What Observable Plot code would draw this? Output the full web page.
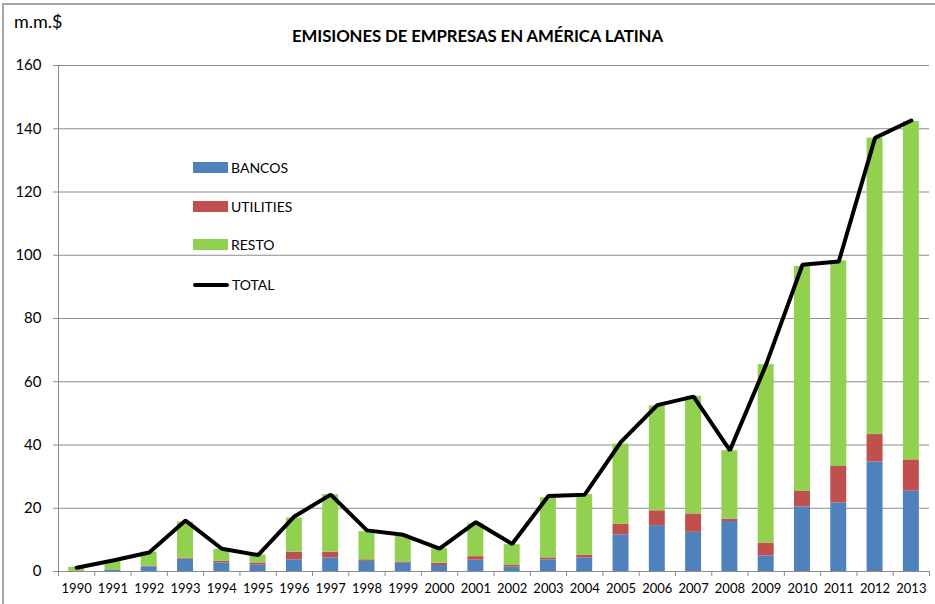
<!DOCTYPE html>
<html>
<head>
<meta charset="utf-8">
<script src="https://cdn.jsdelivr.net/npm/d3@7"></script>
<script src="https://cdn.jsdelivr.net/npm/@observablehq/plot@0.6"></script>
<style>
  body { margin: 0; background: #fff; }
  #chart { position: relative; width: 935px; height: 604px; overflow: hidden; font-family: Lato, "Open Sans", sans-serif; color: #000; }
  #frame { position: absolute; left: 2px; top: 3px; width: 940px; height: 610px; border: 2px solid #a6a6a6; box-sizing: border-box; pointer-events: none; }
  #plot { position: absolute; left: 0; top: 0; }
  #unit { position: absolute; left: 14px; top: 10px; font-size: 18px; }
  #title { position: absolute; left: 0; width: 955px; top: 25px; text-align: center; font-family: Lato, sans-serif; font-weight: bold; font-size: 16.8px; letter-spacing: -0.1px; }
  .key { position: absolute; left: 193px; font-size: 14px; display: flex; align-items: center; }
  .key .sw { width: 35px; height: 11px; margin-right: 3px; }
  .key .ln { width: 36px; height: 4px; background: #000; border-radius: 2px; margin-right: 3px; }
</style>
</head>
<body>
<div id="chart">
  <div id="plot"></div>
  <div id="unit">m.m.$</div>
  <div id="title">EMISIONES DE EMPRESAS EN AMÉRICA LATINA</div>
  <div id="legend"></div>
  <div id="frame"></div>
</div>
<script>
// Corporate bond issuance in Latin America, billions of dollars
const years = [1990, 1991, 1992, 1993, 1994, 1995, 1996, 1997, 1998, 1999, 2000, 2001,
               2002, 2003, 2004, 2005, 2006, 2007, 2008, 2009, 2010, 2011, 2012, 2013];
const bancos    = [0, 0.5, 1.5, 3.9, 2.7, 2.0, 3.7, 4.3, 3.2, 2.6, 1.9, 3.6,
                   1.4, 3.7, 4.3, 11.6, 14.5, 12.4, 15.8, 4.9, 20.4, 21.7, 34.6, 25.4];
const utilities = [0, 0, 0.2, 0.3, 0.5, 0.7, 2.4, 1.8, 0.5, 0.4, 0.7, 1.1,
                   0.5, 0.6, 0.8, 3.3, 4.7, 5.8, 0.8, 4.1, 4.9, 11.5, 8.7, 9.9];
const resto     = [1.3, 2.8, 4.4, 11.4, 3.8, 2.5, 10.8, 18.2, 8.9, 8.1, 4.6, 10.4,
                   6.6, 19.0, 19.2, 25.4, 33.2, 37.2, 21.6, 56.4, 71.2, 65.0, 93.7, 107.0];
const total     = [1.2, 3.5, 6.0, 16.1, 7.2, 5.2, 17.4, 24.3, 13.0, 11.6, 7.2, 15.6,
                   8.7, 23.9, 24.3, 41.0, 52.6, 55.3, 38.3, 65.5, 97.0, 98.0, 137.1, 142.6];
const yTicks = [0, 20, 40, 60, 80, 100, 120, 140, 160];

const seriesNames = ["BANCOS", "UTILITIES", "RESTO"];
const seriesColors = ["#4f81bd", "#c0504d", "#92d050"];
const seriesValues = [bancos, utilities, resto];

// stacked segments, one row per year and series
const segments = [];
years.forEach((year, i) => {
  let base = 0;
  seriesNames.forEach((name, k) => {
    const v = seriesValues[k][i];
    segments.push({year, serie: name, y1: base, y2: base + v});
    base += v;
  });
});
const totals = years.map((year, i) => ({year, total: total[i]}));

const halfBar = 0.22;
const xDomain = [years[0] - 0.5, years[years.length - 1] + 0.5];
const boundaries = years.map(y => y - 0.5).concat([xDomain[1]]);
const axisGray = "#8c8c8c";

const chart = Plot.plot({
  width: 935,
  height: 604,
  marginTop: 65,
  marginBottom: 33,
  marginLeft: 58,
  marginRight: 6,
  style: {fontFamily: "Lato, 'Open Sans', sans-serif", color: "#000", background: "transparent"},
  x: {type: "linear", domain: xDomain},
  y: {domain: [0, 160]},
  color: {domain: seriesNames, range: seriesColors},
  marks: [
    Plot.gridY(yTicks, {stroke: axisGray, strokeOpacity: 1}),
    Plot.ruleX([xDomain[0]], {stroke: axisGray}),
    Plot.axisY({ticks: yTicks, tickSize: 5, tickPadding: 12, fontSize: 15, stroke: axisGray, label: null}),
    Plot.axisX({ticks: boundaries, tickSize: 5, tickFormat: () => "", stroke: axisGray, label: null}),
    Plot.axisX({ticks: years, tickSize: 0, tickPadding: 12, fontSize: 13, tickFormat: d => String(d), label: null}),
    Plot.rect(segments, {
      x1: d => d.year - halfBar,
      x2: d => d.year + halfBar,
      y1: "y1",
      y2: "y2",
      fill: "serie"
    }),
    Plot.ruleY([0], {stroke: axisGray}),
    Plot.line(totals, {x: "year", y: "total", stroke: "#000", strokeWidth: 4, strokeLinejoin: "miter"})
  ]
});
document.getElementById("plot").appendChild(chart);

// legend entries
const legend = document.getElementById("legend");
const keyTops = [159, 198, 236, 276];
seriesNames.forEach((name, k) => {
  const row = document.createElement("div");
  row.className = "key";
  row.style.top = keyTops[k] + "px";
  row.innerHTML = `<span class="sw" style="background:${seriesColors[k]}"></span>${name}`;
  legend.appendChild(row);
});
const lineRow = document.createElement("div");
lineRow.className = "key";
lineRow.style.top = keyTops[3] + "px";
lineRow.innerHTML = `<span class="ln"></span>TOTAL`;
legend.appendChild(lineRow);
</script>
</body>
</html>
